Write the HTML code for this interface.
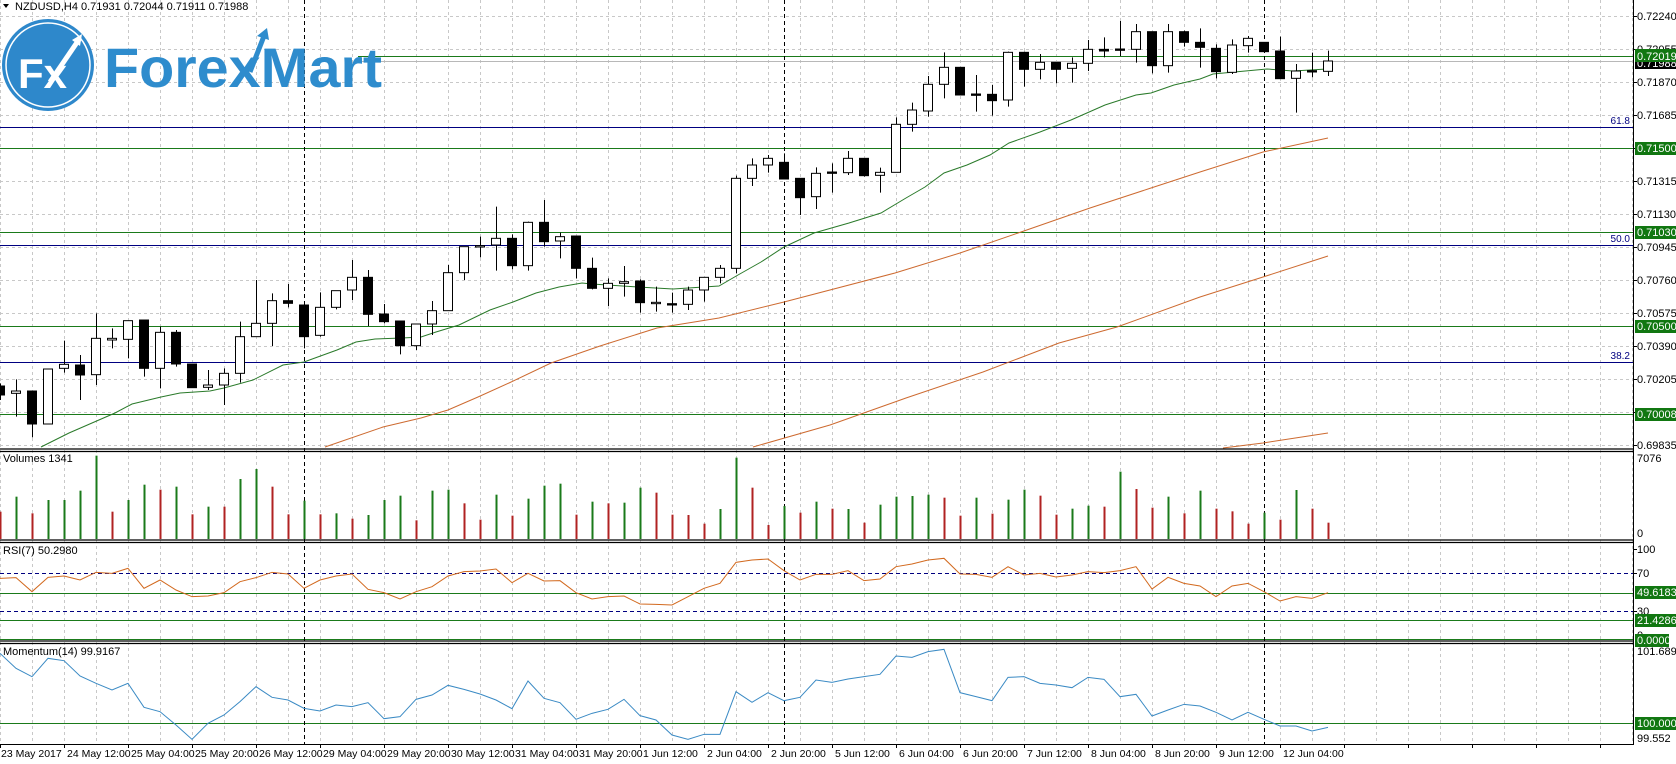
<!DOCTYPE html>
<html><head><meta charset="utf-8">
<style>
html,body{margin:0;padding:0;background:#fff;}
svg{display:block;font-family:"Liberation Sans",sans-serif;}
</style></head>
<body>
<svg id="s" width="1676" height="764" xmlns="http://www.w3.org/2000/svg">
<rect width="1676" height="764" fill="#fff"/>
<g id="grid"></g>
<g id="lines"></g>
<g id="ma"></g>
<g id="candles"></g>
<g id="vol"></g>
<g id="ind"></g>
<g id="frame"></g>
<!-- logo -->
<circle cx="48" cy="65" r="46" fill="#2e88cb"/>
<circle cx="48" cy="65" r="42" fill="none" stroke="#fff" stroke-width="1.5"/>
<text x="18" y="88" font-size="42" font-weight="bold" fill="#fff">Fx</text>
<path d="M50 82 L80 38" stroke="#fff" stroke-width="5"/>
<path d="M72 40 L82 34 L80 46 Z" fill="#fff"/>
<text x="104" y="87" font-size="56" font-weight="bold" fill="#2e8ccd" textLength="278" lengthAdjust="spacingAndGlyphs">ForexMart</text>
<path d="M250 72 L264 36" stroke="#2e8ccd" stroke-width="5"/>
<path d="M257 36 L267 28 L269 40 Z" fill="#2e8ccd"/>
<!-- header -->
<path d="M3 4 L9 4 L6 8 Z" fill="#000"/>
<text x="15" y="10" font-size="11" fill="#000">NZDUSD,H4  0.71931 0.72044 0.71911 0.71988</text>
<!-- price labels -->
<g font-size="11" fill="#000">
<text x="1637" y="20">0.72240</text>
<text x="1637" y="53">0.72055</text>
<text x="1637" y="86">0.71870</text>
<text x="1637" y="119">0.71685</text>
<text x="1637" y="185">0.71315</text>
<text x="1637" y="218">0.71130</text>
<text x="1637" y="251">0.70945</text>
<text x="1637" y="284">0.70760</text>
<text x="1637" y="317">0.70575</text>
<text x="1637" y="350">0.70390</text>
<text x="1637" y="383">0.70205</text>
<text x="1637" y="449">0.69835</text>
<text x="1637" y="462">7076</text>
<text x="1637" y="537">0</text>
<text x="1637" y="553">100</text>
<text x="1637" y="577">70</text>
<text x="1637" y="615">30</text>
<text x="1637" y="639">0</text>
<text x="1637" y="655">101.6898</text>
<text x="1637" y="742">99.552</text>
</g>
<g font-size="11">
<rect x="1635" y="56" width="41" height="13" fill="#000"/><text x="1637" y="67" fill="#fff">0.71988</text>
<rect x="1635" y="49" width="41" height="13" fill="#117711"/><text x="1637" y="60" fill="#fff">0.72019</text>
<rect x="1635" y="142" width="41" height="13" fill="#117711"/><text x="1637" y="152" fill="#fff">0.71500</text>
<rect x="1635" y="226" width="41" height="13" fill="#117711"/><text x="1637" y="236" fill="#fff">0.71030</text>
<rect x="1635" y="320" width="41" height="13" fill="#117711"/><text x="1637" y="330" fill="#fff">0.70500</text>
<rect x="1635" y="408" width="41" height="13" fill="#117711"/><text x="1637" y="418" fill="#fff">0.70008</text>
<rect x="1635" y="586" width="41" height="13" fill="#117711"/><text x="1637" y="596" fill="#fff">49.6183</text>
<rect x="1635" y="614" width="41" height="13" fill="#117711"/><text x="1637" y="624" fill="#fff">21.4286</text>
<rect x="1635" y="634" width="34" height="13" fill="#117711"/><text x="1637" y="644" fill="#fff">0.0000</text>
<rect x="1635" y="717" width="41" height="13" fill="#117711"/><text x="1637" y="727" fill="#fff">100.0000</text>
</g>
<g font-size="10" fill="#000080" text-anchor="end">
<text x="1630" y="124">61.8</text>
<text x="1630" y="242">50.0</text>
<text x="1630" y="359">38.2</text>
</g>
<g font-size="11" fill="#000">
<text x="3" y="462">Volumes 1341</text>
<text x="3" y="554">RSI(7) 50.2980</text>
<text x="3" y="655">Momentum(14) 99.9167</text>
</g>
<g font-size="10.5" fill="#000">
<text x="1" y="757">23 May 2017</text>
<text x="67" y="757">24 May 12:00</text>
<text x="131" y="757">25 May 04:00</text>
<text x="195" y="757">25 May 20:00</text>
<text x="259" y="757">26 May 12:00</text>
<text x="323" y="757">29 May 04:00</text>
<text x="387" y="757">29 May 20:00</text>
<text x="451" y="757">30 May 12:00</text>
<text x="515" y="757">31 May 04:00</text>
<text x="579" y="757">31 May 20:00</text>
<text x="643" y="757">1 Jun 12:00</text>
<text x="707" y="757">2 Jun 04:00</text>
<text x="771" y="757">2 Jun 20:00</text>
<text x="835" y="757">5 Jun 12:00</text>
<text x="899" y="757">6 Jun 04:00</text>
<text x="963" y="757">6 Jun 20:00</text>
<text x="1027" y="757">7 Jun 12:00</text>
<text x="1091" y="757">8 Jun 04:00</text>
<text x="1155" y="757">8 Jun 20:00</text>
<text x="1219" y="757">9 Jun 12:00</text>
<text x="1283" y="757">12 Jun 04:00</text>
</g>
</svg>
<script>
var NS="http://www.w3.org/2000/svg";
function el(g,t,a){var e=document.createElementNS(NS,t);for(var k in a)e.setAttribute(k,a[k]);document.getElementById(g).appendChild(e);return e;}
function ln(g,x1,y1,x2,y2,c,w,d){var a={x1:x1,y1:y1,x2:x2,y2:y2,stroke:c,"stroke-width":w||1};if(d)a["stroke-dasharray"]=d;el(g,"line",a);}
function pl(g,pts,c,w){el(g,"polyline",{points:pts.map(function(p){return p[0]+","+p[1]}).join(" "),fill:"none",stroke:c,"stroke-width":w||1});}
for(var x=0;x<1633;x+=32){ln("grid",x+0.5,0,x+0.5,744,"#c8c8c8",1,"3,3");}
[16,49,82,115,148,181,214,247,280,313,346,379,412,445].forEach(function(y){ln("grid",0,y+0.5,1633,y+0.5,"#c8c8c8",1,"3,3");});
ln("lines",358,56.5,1633,56.5,"#1a7a1a",1);
ln("lines",358,61.5,1633,61.5,"#b8b8b8",1);
[[127,"#000080"],[148,"#1a7a1a"],[232,"#1a7a1a"],[245,"#000080"],[326,"#1a7a1a"],[362,"#000080"],[414,"#1a7a1a"]].forEach(function(l){ln("lines",0,l[0]+0.5,1633,l[0]+0.5,l[1],1);});
ln("lines",0,573.5,1633,573.5,"#000080",1,"4,3");
ln("lines",0,611.5,1633,611.5,"#000080",1,"4,3");
ln("lines",0,593.5,1633,593.5,"#1a7a1a",1);
ln("lines",0,620.5,1633,620.5,"#1a7a1a",1);
ln("lines",0,639.5,1633,639.5,"#1a7a1a",1);
ln("lines",0,723.5,1633,723.5,"#1a7a1a",1);
[304,784,1264].forEach(function(x){ln("lines",x+0.5,0,x+0.5,744,"#000",1,"4,3");});
pl("ma",[[41,447],[69,433],[115,413],[132,404],[161,397],[180,393],[210,391],[224,388],[253,380],[283,365],[304,362],[337,350],[356,342],[375,339],[402,338],[421,337],[436,332],[459,325],[490,310],[513,302],[536,293],[559,287],[582,283],[592,284],[638,287],[673,289],[719,286],[738,275],[761,262],[784,247],[814,233],[849,223],[881,213],[906,198],[925,187],[944,173],[967,165],[990,155],[1009,143],[1040,132],[1071,120],[1105,105],[1136,95],[1151,93],[1174,85],[1200,79],[1213,74],[1267,69],[1293,71],[1327,69]],"#2a7a2a",1);
pl("ma",[[325,447],[383,427],[421,418],[448,410],[478,397],[509,383],[551,363],[600,346],[657,328],[719,318],[784,302],[895,273],[960,253],[1021,232],[1090,208],[1151,188],[1200,172],[1263,152],[1328,138]],"#cd6a30",1);
pl("ma",[[753,447],[830,425],[906,398],[983,372],[1059,343],[1117,327],[1200,297],[1263,277],[1328,256]],"#cd6a30",1);
pl("ma",[[1223,448],[1263,443],[1328,433]],"#cd6a30",1);
var C=[["b",1158,1185,1150,1200],["w",1173,1180,1138,1250],["b",1173,1272,1173,1312],["w",1107,1272,1107,1272],["w",1093,1105,1022,1118],["b",1095,1125,1065,1200],["w",1015,1124,940,1155],["w",1015,1020,985,1045],["w",962,1018,962,1075],["b",960,1105,960,1130],["w",997,1105,980,1165],["b",997,1092,990,1100],["b",1092,1163,1092,1163],["w",1155,1162,1110,1170],["w",1120,1155,1105,1215],["w",1010,1120,965,1148],["w",970,1010,840,1010],["w",902,970,880,1038],["b",902,910,852,922],["b",915,1010,915,1045],["w",922,1006,877,1010],["w",872,922,872,928],["w",832,870,780,900],["b",832,943,810,978],["b",942,965,912,970],["b",963,1037,963,1063],["w",972,1037,972,1050],["w",932,972,903,1005],["w",818,932,795,932],["w",740,818,740,840],["w",737,741,710,772],["w",715,735,620,812],["b",715,797,703,808],["w",667,797,665,812],["b",667,725,600,740],["w",710,723,698,775],["b",708,805,708,835],["b",805,865,773,868],
["w",850,865,835,918],["w",845,850,798,890],["b",843,908,838,938],["w",907,911,860,935],["b",911,915,878,938],["w",870,913,860,930],["w",832,870,832,905],["w",805,832,795,850],["w",535,805,527,820],["w",495,535,475,558],["w",475,495,465,518],["b",487,537,460,537],["b",535,593,535,645],["w",520,590,502,627],["b",516,520,490,578],["w",475,518,453,525],["b",475,527,475,530],["w",517,526,503,578],["w",373,517,352,517],["w",330,373,308,395],["w",253,333,228,350],["w",202,253,157,295],["b",202,285,202,285],["b",282,286,225,335],["b",283,302,255,347],["w",157,300,155,320],["b",157,208,155,260],["w",187,208,162,238],["b",187,208,187,250],["w",190,205,172,248],["w",148,190,120,213],["b",148,153,112,172],["b",147,151,63,168],["w",95,148,72,188],["b",95,197,95,220],["w",95,197,72,218],["b",95,127,92,140],
["b",127,142,85,203],["b",145,215,133,235],["w",135,217,118,222],["w",115,137,108,158],["b",127,155,127,155],["b",153,236,110,236],["w",213,235,192,338],["b",212,216,158,232],["w",183,214,152,228]];
C.forEach(function(c,i){var x=i*16+0.5;var bt=c[1]/3,bb=c[2]/3,wt=c[3]/3,wb=c[4]/3;
ln("candles",x,wt,x,wb,"#000",1);
var h=Math.max(bb-bt,1);
el("candles","rect",{x:i*16-4.5,y:bt,width:9,height:h,fill:c[0]=="b"?"#000":"#fff",stroke:"#000","stroke-width":1});});
var V=[[185,"r"],[140,"g"],[190,"r"],[150,"g"],[150,"g"],[122,"g"],[17,"g"],[185,"r"],[150,"g"],[104,"g"],[119,"r"],[110,"g"],[193,"r"],[170,"g"],[170,"r"],[87,"g"],[57,"g"],[110,"r"],[193,"r"],[152,"g"],[193,"r"],[190,"g"],[206,"r"],[195,"g"],[150,"g"],[137,"g"],[211,"r"],[122,"g"],[119,"g"],[160,"r"],[209,"r"],[134,"g"],[197,"r"],[146,"g"],[107,"g"],[101,"g"],[194,"r"],[155,"g"],[160,"r"],[158,"g"],[113,"g"],[128,"r"],[194,"r"],[195,"r"],[221,"r"],[177,"g"],[23,"g"],[113,"r"],[225,"r"],[168,"g"],[188,"r"],[155,"g"],[176,"r"],[177,"g"],[218,"r"],[164,"g"],[140,"g"],[138,"g"],[134,"g"],[143,"r"],[197,"r"],[143,"g"],[191,"r"],[149,"g"],[119,"g"],[137,"r"],[194,"r"],[176,"g"],[167,"g"],[170,"r"],[65,"g"],[117,"r"],[173,"r"],[140,"g"],[190,"r"],[122,"g"],[176,"r"],[184,"r"],[221,"r"],[188,"g"],[209,"r"],[120,"g"],[176,"r"],[218,"r"]];
V.forEach(function(v,i){ln("vol",i*16+0.5,450+v[0]/3,i*16+0.5,539,v[1]=="g"?"#1a7a1a":"#b02222",2);});
var R=[385,383,425,382,378,390,367,370,355,415,390,420,440,438,428,395,383,367,372,415,390,378,372,418,428,447,425,410,378,365,363,357,398,370,393,392,428,447,440,438,462,463,465,440,415,400,337,330,327,362,390,373,373,362,392,387,350,342,330,325,372,373,382,350,375,370,381,375,365,368,362,350,417,382,400,408,440,408,400,425,453,440,445,428];
pl("ind",R.map(function(v,i){return[i*16,450+v/3]}),"#d2691e",1);
var M=[610,655,680,625,632,678,700,720,700,772,785,825,868,820,795,755,710,742,750,775,783,765,770,758,806,800,748,735,706,718,732,750,776,693,745,758,808,790,778,748,797,810,855,868,853,853,725,757,728,752,742,690,697,687,680,673,618,622,605,598,728,740,752,682,680,700,705,713,682,688,740,733,798,780,763,768,787,810,787,808,828,828,843,832];
pl("ind",M.map(function(v,i){return[i*16,450+v/3]}),"#3a8ac4",1);
ln("frame",1633.5,0,1633.5,745,"#000",1);
[449,451.5,540,542.5,641,643.5].forEach(function(y){ln("frame",0,y,1633,y,"#000",1.3);});
ln("frame",0,744.5,1633,744.5,"#000",1);
for(var x=0;x<1633;x+=64){ln("frame",x+0.5,744,x+0.5,748,"#000",1);}
[16,49,82,115,148,181,214,247,280,313,346,379,412,445,549,573,611].forEach(function(y){ln("frame",1633,y+0.5,1637,y+0.5,"#000",1);});
</script>
</body></html>
